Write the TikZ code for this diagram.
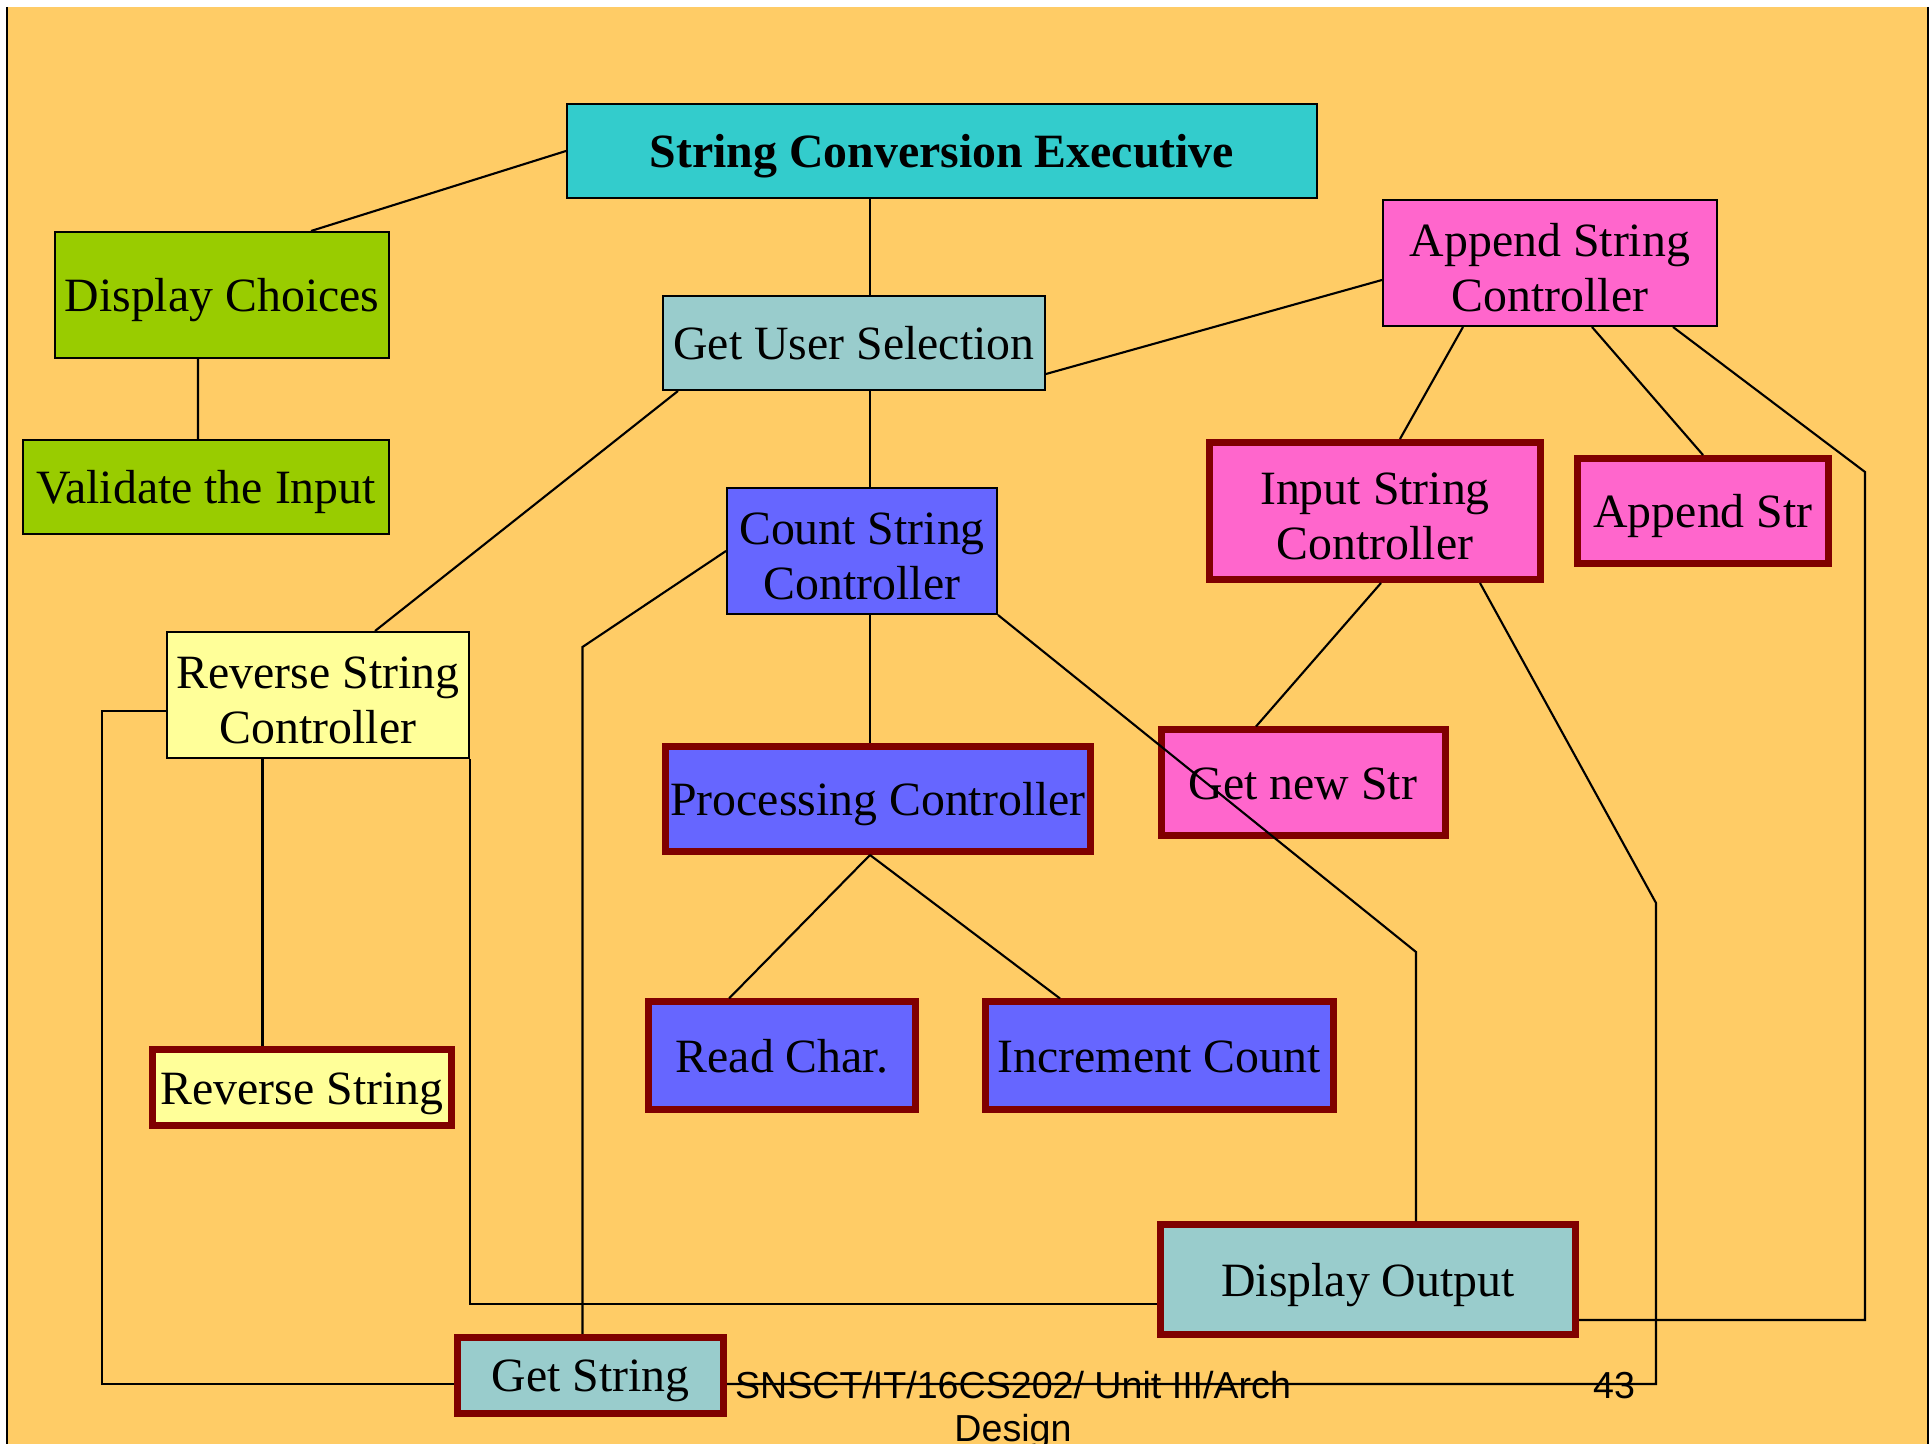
\documentclass[tikz,border=0pt]{standalone}
\usepackage{fontspec}
\setmainfont{Liberation Serif}
\newfontfamily\footfont{Liberation Sans}
\usetikzlibrary{calc}
\usetikzlibrary{positioning}

\definecolor{slidebg}{HTML}{FFCC66}
\definecolor{execcol}{HTML}{33CCCC}
\definecolor{greencol}{HTML}{99CC00}
\definecolor{tealcol}{HTML}{99CCCC}
\definecolor{pinkcol}{HTML}{FF66CC}
\definecolor{bluecol}{HTML}{6666FF}
\definecolor{yellowcol}{HTML}{FFFF99}
\definecolor{darkred}{HTML}{800000}

\newcommand{\topstrut}{\rule{0pt}{0.9em}}

\begin{document}
\begin{tikzpicture}[
    box/.style={draw, line width=0.02cm, inner sep=0pt, align=center,
      font=\fontsize{13.6}{15.7}\selectfont},
    oneline/.style={execute at begin node={\rule[-0.216em]{0pt}{1.107em}},
      execute at end node={\rule[-0.216em]{0pt}{1.107em}}},
    thickbox/.style={box, draw=darkred, line width=0.07cm},
    link/.style={line width=0.6pt}
  ]
  \useasboundingbox (0,0) rectangle (19.30,-14.44);
  \fill[slidebg] (0.07,-0.07) rectangle (19.28,-14.44);
  \draw[line width=0.6pt] (0.07,-0.07) -- (0.07,-14.44);
  \draw[line width=0.6pt] (19.28,-0.07) -- (19.28,-14.44);

  % boxes
  \node[box, oneline, fill=execcol, minimum width=7.50cm, minimum height=0.94cm, font=\fontsize{13.6}{15.7}\selectfont\bfseries] (exec) at (9.42,-1.51) {String Conversion Executive};
  \node[box, oneline, fill=greencol, minimum width=3.34cm, minimum height=1.26cm] (choices) at (2.22,-2.95) {Display Choices};
  \node[box, oneline, fill=greencol, minimum width=3.66cm, minimum height=0.94cm] (validate) at (2.06,-4.87) {Validate the Input};
  \node[box, oneline, fill=tealcol, minimum width=3.82cm, minimum height=0.94cm] (select) at (8.54,-3.43) {Get User Selection};
  \node[box, fill=pinkcol, minimum width=3.34cm, minimum height=1.26cm] (append) at (15.50,-2.63) {\topstrut Append String\\Controller};
  \node[box, fill=bluecol, minimum width=2.70cm, minimum height=1.26cm] (count) at (8.62,-5.51) {\topstrut Count String\\Controller};
  \node[thickbox, fill=pinkcol, minimum width=3.31cm, minimum height=1.37cm] (input) at (13.75,-5.11) {\topstrut Input String\\Controller};
  \node[thickbox, oneline, fill=pinkcol, minimum width=2.51cm, minimum height=1.05cm] (appstr) at (17.03,-5.11) {Append Str};
  \node[box, fill=yellowcol, minimum width=3.02cm, minimum height=1.26cm] (reverse) at (3.18,-6.95) {\topstrut Reverse String\\Controller};
  \node[thickbox, oneline, fill=bluecol, minimum width=4.25cm, minimum height=1.05cm] (process) at (8.78,-7.99) {Processing Controller};
  \node[thickbox, oneline, fill=pinkcol, minimum width=2.84cm, minimum height=1.06cm] (newstr) at (13.03,-7.83) {Get new Str};
  \node[thickbox, oneline, fill=bluecol, minimum width=2.67cm, minimum height=1.08cm] (readch) at (7.82,-10.56) {Read Char.};
  \node[thickbox, oneline, fill=bluecol, minimum width=3.48cm, minimum height=1.08cm] (incr) at (11.59,-10.56) {Increment Count};
  \node[thickbox, oneline, fill=yellowcol, minimum width=2.99cm, minimum height=0.76cm] (revstr) at (3.02,-10.88) {Reverse String};
  \node[thickbox, oneline, fill=tealcol, minimum width=4.15cm, minimum height=1.10cm] (output) at (13.68,-12.80) {Display Output};
  \node[thickbox, oneline, fill=tealcol, minimum width=2.66cm, minimum height=0.76cm] (getstr) at (5.905,-13.755) {Get String};

  % connectors
  \coordinate (spine) at (8.70,0);
  \draw[link] (exec.west) -- ($(choices.north)+(0.89,0)$);
  \draw[link] (exec.south -| spine) -- (select.north -| spine);
  \draw[link] ($(choices.south)+(-0.24,0)$) -- ($(validate.north)+(-0.08,0)$);
  \draw[link] ($(select.east)+(0,-0.31)$) -- ($(append.west)+(0,-0.17)$);
  \draw[link] (select.south -| spine) -- (count.north -| spine);
  \draw[link] ($(select.south)+(-1.76,0)$) -- ($(reverse.north)+(0.57,0)$);
  \draw[link] ($(append.south)+(-0.87,0)$) -- ($(input.north)+(0.25,0)$);
  \draw[link] ($(append.south)+(0.42,0)$) -- (appstr.north);
  \draw[link] ($(append.south)+(1.23,0)$) -- (18.65,-4.72) |- ($(output.east)+(0,-0.40)$);
  \draw[link] ($(input.south)+(0.06,0)$) -- ($(newstr.north)+(-0.47,0)$);
  \draw[link] ($(input.south)+(1.05,0)$) -- (16.56,-9.03) |- ($(getstr.east)+(0,-0.085)$);
  \draw[link] (count.west) -- (5.825,-6.47) -- ($(getstr.north)+(-0.08,0)$);
  \draw[link] (count.south east) -- (14.16,-9.52) -- ($(output.north)+(0.48,0)$);
  \draw[link] (count.south -| spine) -- (process.north -| spine);
  \draw[link] (process.south -| spine) -- ($(readch.north)+(-0.53,0)$);
  \draw[link] (process.south -| spine) -- ($(incr.north)+(-0.99,0)$);
  \draw[link] ($(reverse.south)+(-0.555,0)$) -- ($(revstr.north)+(-0.395,0)$);
  \draw[link] ($(reverse.west)+(0,-0.16)$) -- (1.02,-7.11) |- ($(getstr.west)+(0,-0.085)$);
  \draw[link] (reverse.south east) |- ($(output.west)+(0,-0.24)$);

  % footer
  \node[align=center, inner sep=0pt, font=\footfont\fontsize{10.7}{12.2}\selectfont] (foot) at (10.13,-14.10) {SNSCT/IT/16CS202/ Unit III/Arch\\Design};
  \node[inner sep=0pt, font=\footfont\fontsize{10.7}{12.2}\selectfont] (page) at (16.14,-13.86) {43};
\end{tikzpicture}
\end{document}
